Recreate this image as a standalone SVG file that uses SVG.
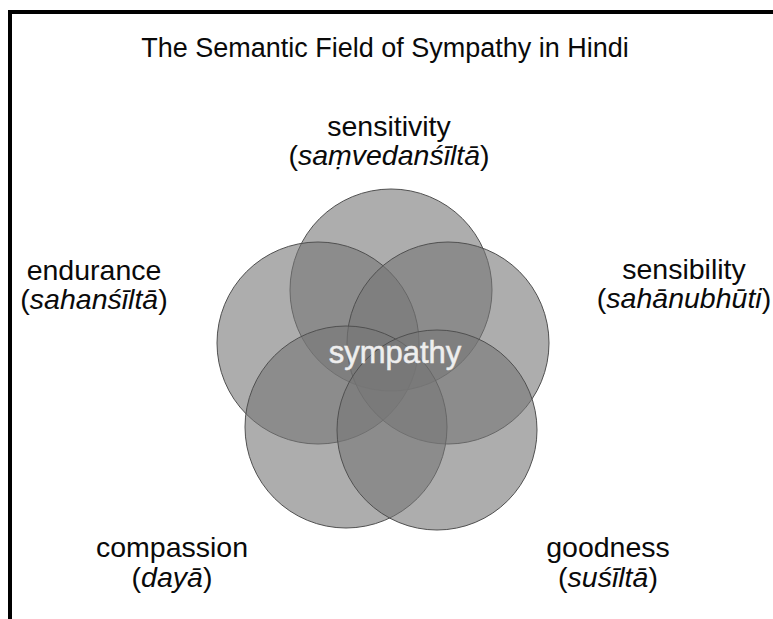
<svg xmlns="http://www.w3.org/2000/svg" width="773" height="619" viewBox="0 0 773 619">
<style>
.bg{fill:#ffffff}
.frame{fill:none;stroke:#000;stroke-width:4}
.c{fill:#777777;fill-opacity:0.6;stroke:#505050;stroke-width:1}
.t{font-family:"Liberation Sans",Arial,sans-serif;fill:#0a0a0a;text-anchor:middle}
.title{font-size:27px}
.lbl{font-size:28.5px}
.it{font-style:italic}
.center{font-family:"Liberation Sans",Arial,sans-serif;font-size:31px;fill:#eeeeee;text-anchor:middle;stroke:#eeeeee;stroke-width:0.5}
</style>
<rect class="bg" x="0" y="0" width="773" height="619"/>
<rect class="frame" x="10" y="12" width="800" height="700"/>
<text class="t title" x="385" y="57">The Semantic Field of Sympathy in Hindi</text>
<g id="sensitivity">
<circle class="c" cx="391" cy="290" r="101"/>
<text class="t lbl" x="389" y="136">sensitivity</text>
<text class="t lbl" x="389" y="165">(<tspan class="it">saṃvedanśīltā</tspan>)</text>
</g>
<g id="endurance">
<circle class="c" cx="318" cy="343" r="101"/>
<text class="t lbl" x="94" y="280">endurance</text>
<text class="t lbl" x="94" y="309">(<tspan class="it">sahanśīltā</tspan>)</text>
</g>
<g id="sensibility">
<circle class="c" cx="448" cy="343" r="101"/>
<text class="t lbl" x="684" y="279">sensibility</text>
<text class="t lbl" x="684" y="308">(<tspan class="it">sahānubhūti</tspan>)</text>
</g>
<g id="compassion">
<circle class="c" cx="346" cy="427" r="101"/>
<text class="t lbl" x="172" y="557">compassion</text>
<text class="t lbl" x="172" y="587">(<tspan class="it">dayā</tspan>)</text>
</g>
<g id="goodness">
<circle class="c" cx="437" cy="430" r="100"/>
<text class="t lbl" x="608" y="557">goodness</text>
<text class="t lbl" x="608" y="587">(<tspan class="it">suśīltā</tspan>)</text>
</g>
<g id="sympathy">
<text class="center" x="395" y="363">sympathy</text>
</g>
</svg>
